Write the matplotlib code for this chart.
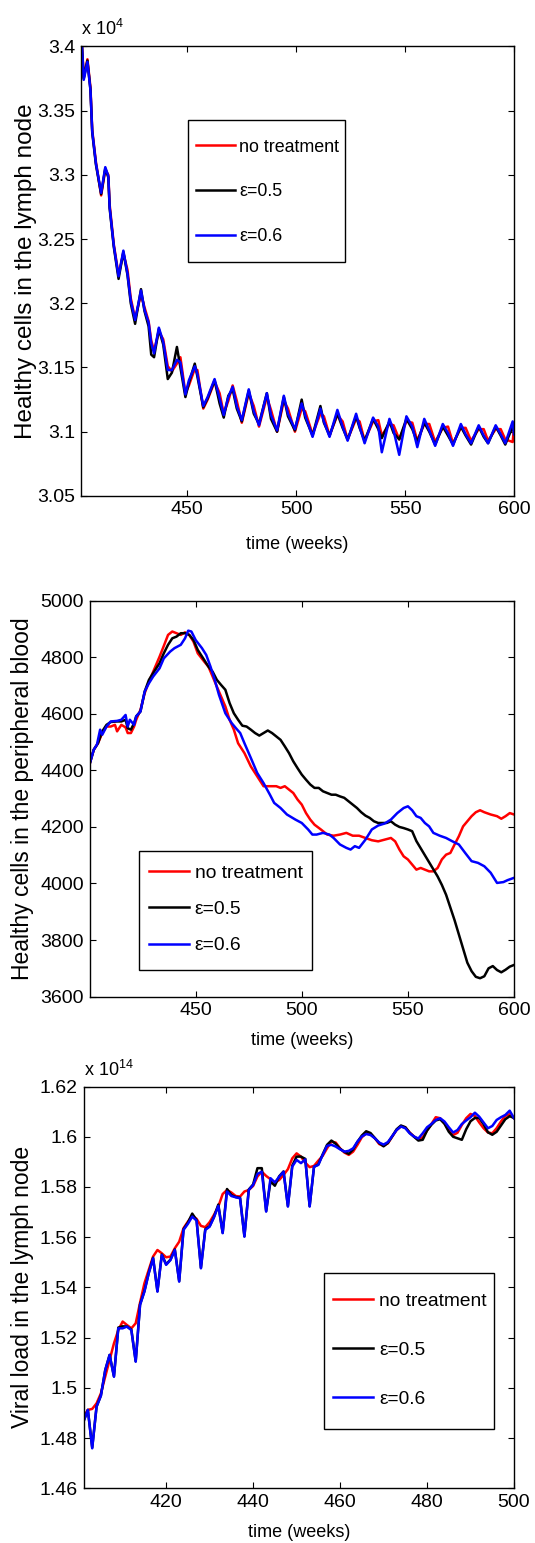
import matplotlib
matplotlib.use('Agg')
import matplotlib.pyplot as plt
from matplotlib.patches import Rectangle
from matplotlib.ticker import FuncFormatter

plt.rcParams['font.family'] = ['Liberation Sans', 'DejaVu Sans']
plt.rcParams['mathtext.default'] = 'regular'

FIG_W, FIG_H = 535, 1543  # tamanho em pixels

labels = ['no treatment', 'ε=0.5', 'ε=0.6']
colors = ['#ff0000', '#000000', '#0000ff']

# ---- Painel 1: células saudáveis no linfonodo (x 10^4) ----
t1 = [401.6, 402.4, 404.1, 405.5, 406.3, 408.0, 410.4, 412.3, 413.7, 414.3,
      416.2, 418.4, 420.6, 422.5, 424.0, 426.0, 428.7, 430.3, 432.2, 433.4,
      434.7, 436.9, 438.9, 441.0, 442.9, 445.2, 446.8, 449.1, 450.7, 453.4,
      454.6, 457.3, 459.3, 462.5, 464.8, 466.7, 468.8, 470.8, 472.7, 475.0,
      478.2, 480.5, 482.9, 486.5, 488.4, 491.2, 494.3, 496.2, 499.4, 502.5,
      504.1, 507.5, 511.1, 512.7, 515.3, 518.9, 521.3, 523.6, 527.5, 529.1,
      531.4, 535.3, 537.7, 539.3, 542.8, 544.7, 547.3, 550.6, 553.3, 555.6,
      558.8, 561.1, 563.8, 567.3, 569.7, 572.0, 575.6, 577.8, 580.3, 583.8,
      586.1, 588.1, 591.6, 593.9, 596.0, 599.4, 600.0]
lymph_none = [3.400, 3.376, 3.390, 3.368, 3.335, 3.310, 3.284, 3.304, 3.300, 3.277,
              3.246, 3.222, 3.239, 3.226, 3.204, 3.188, 3.207, 3.197, 3.186, 3.171,
              3.163, 3.178, 3.172, 3.151, 3.147, 3.153, 3.158, 3.130, 3.136, 3.149,
              3.148, 3.118, 3.125, 3.139, 3.130, 3.114, 3.124, 3.136, 3.124, 3.107,
              3.130, 3.120, 3.104, 3.127, 3.117, 3.100, 3.124, 3.118, 3.100, 3.118,
              3.116, 3.098, 3.114, 3.112, 3.097, 3.113, 3.108, 3.094, 3.110, 3.108,
              3.093, 3.108, 3.109, 3.097, 3.106, 3.105, 3.094, 3.108, 3.107, 3.093,
              3.106, 3.106, 3.092, 3.103, 3.104, 3.091, 3.103, 3.103, 3.093, 3.102,
              3.102, 3.093, 3.102, 3.102, 3.094, 3.092, 3.103]
lymph_e05 = [3.400, 3.375, 3.389, 3.366, 3.333, 3.308, 3.285, 3.305, 3.298, 3.274,
             3.244, 3.219, 3.240, 3.222, 3.200, 3.184, 3.211, 3.194, 3.182, 3.160,
             3.158, 3.180, 3.168, 3.141, 3.146, 3.166, 3.150, 3.127, 3.138, 3.153,
             3.143, 3.119, 3.126, 3.140, 3.122, 3.111, 3.128, 3.133, 3.118, 3.108,
             3.132, 3.114, 3.106, 3.130, 3.110, 3.100, 3.127, 3.112, 3.101, 3.125,
             3.111, 3.097, 3.120, 3.107, 3.097, 3.114, 3.103, 3.094, 3.112, 3.103,
             3.093, 3.110, 3.102, 3.095, 3.108, 3.099, 3.094, 3.110, 3.102, 3.092,
             3.107, 3.100, 3.090, 3.104, 3.097, 3.090, 3.104, 3.097, 3.090, 3.104,
             3.096, 3.091, 3.104, 3.097, 3.090, 3.104, 3.100]
lymph_e06 = [3.400, 3.374, 3.388, 3.366, 3.334, 3.309, 3.286, 3.306, 3.299, 3.275,
             3.245, 3.221, 3.241, 3.223, 3.202, 3.187, 3.210, 3.195, 3.185, 3.169,
             3.161, 3.181, 3.170, 3.148, 3.148, 3.156, 3.154, 3.129, 3.140, 3.151,
             3.145, 3.120, 3.127, 3.141, 3.126, 3.113, 3.127, 3.135, 3.120, 3.109,
             3.133, 3.116, 3.105, 3.130, 3.113, 3.101, 3.128, 3.114, 3.102, 3.122,
             3.113, 3.096, 3.118, 3.108, 3.096, 3.117, 3.104, 3.093, 3.114, 3.104,
             3.091, 3.111, 3.104, 3.084, 3.110, 3.101, 3.082, 3.112, 3.104, 3.088,
             3.110, 3.101, 3.089, 3.106, 3.099, 3.089, 3.106, 3.098, 3.091, 3.105,
             3.097, 3.091, 3.105, 3.098, 3.091, 3.108, 3.098]

# ---- Painel 2: células saudáveis no sangue periférico ----
t2_none = [400.2, 402, 404, 406, 408, 410, 412, 413, 415, 417,
           418, 419.5, 421, 422, 424, 426, 428, 430, 433, 435,
           437, 439, 441, 443, 445, 447, 449, 451, 454, 456,
           458, 460, 462, 464, 466, 468, 470, 473, 476, 479,
           482, 485, 488, 490, 492, 494, 496, 498, 500, 502,
           504, 506, 509, 512, 515, 518, 521, 524, 527, 530,
           533, 536, 539, 542, 544, 546, 548, 550, 552, 554,
           556, 558, 560, 562, 564, 566, 568, 570, 572, 574,
           576, 578, 580, 582, 584, 586, 589, 592, 594, 596,
           598, 600]
blood_none = [4426, 4473, 4496, 4532, 4555, 4555, 4561, 4538, 4561, 4552,
              4532, 4532, 4555, 4579, 4614, 4673, 4714, 4749, 4802, 4840,
              4879, 4891, 4885, 4879, 4888, 4879, 4855, 4814, 4785, 4767,
              4732, 4696, 4661, 4626, 4579, 4544, 4496, 4461, 4414, 4379,
              4344, 4344, 4344, 4338, 4344, 4332, 4320, 4297, 4279, 4249,
              4226, 4208, 4191, 4173, 4169, 4173, 4179, 4169, 4169, 4161,
              4153, 4149, 4155, 4161, 4149, 4120, 4096, 4085, 4067, 4049,
              4055, 4049, 4043, 4043, 4055, 4085, 4102, 4108, 4138, 4167,
              4202, 4220, 4238, 4252, 4259, 4252, 4244, 4238, 4229, 4238,
              4249, 4244]
t2_e05 = [400.2, 402, 404, 406, 408, 410, 413, 415, 417, 418,
          419.5, 421, 422, 424, 426, 428, 430, 433, 435, 437,
          439, 441, 443, 445, 447, 449, 451, 454, 456, 458,
          460, 462, 464, 466, 468, 470, 472, 474, 476, 478,
          480, 482, 484, 486, 488, 490, 492, 494, 496, 498,
          500, 502, 504, 506, 508, 510, 512, 514, 516, 518,
          520, 522, 524, 526, 528, 530, 532, 534, 536, 538,
          540, 542, 544, 546, 548, 550, 552, 554, 556, 558,
          560, 562, 564, 566, 568, 570, 572, 574, 576, 578,
          580, 582, 584, 586, 588, 590, 592, 594, 596, 598,
          600]
blood_e05 = [4426, 4473, 4496, 4538, 4561, 4571, 4573, 4573, 4579, 4549,
             4544, 4567, 4591, 4608, 4679, 4720, 4744, 4779, 4814, 4844,
             4867, 4873, 4885, 4885, 4879, 4861, 4826, 4791, 4767, 4749,
             4720, 4702, 4685, 4638, 4602, 4579, 4558, 4555, 4544, 4532,
             4523, 4532, 4541, 4532, 4520, 4508, 4485, 4461, 4432, 4408,
             4385, 4367, 4350, 4338, 4338, 4326, 4320, 4314, 4314, 4308,
             4303, 4291, 4279, 4267, 4252, 4240, 4232, 4220, 4214, 4214,
             4214, 4220, 4208, 4200, 4196, 4191, 4185, 4150, 4125, 4100,
             4075, 4050, 4025, 3995, 3960, 3915, 3870, 3820, 3770, 3720,
             3690, 3670, 3665, 3672, 3700, 3708, 3694, 3686, 3695, 3706,
             3712]
t2_e06 = [400.2, 402, 403.5, 405, 406, 408, 410, 413, 415, 417,
          418, 419, 421, 422, 424, 426, 428, 430, 433, 435,
          438, 440, 443, 445, 446.5, 448, 450, 453, 455, 457,
          459, 461, 464, 467, 469, 471, 473, 476, 479, 482,
          485, 487, 490, 493, 497, 500, 503, 505, 507, 510,
          513, 515, 518, 521, 523, 525, 527, 530, 533, 536,
          539, 542, 545, 548, 550, 552, 554, 556, 558, 560,
          562, 565, 568, 571, 574, 577, 580, 583, 586, 589,
          592, 595, 597, 600]
blood_e06 = [4426, 4473, 4491, 4544, 4526, 4555, 4573, 4575, 4579, 4596,
             4555, 4579, 4561, 4591, 4608, 4679, 4708, 4732, 4761, 4796,
             4820, 4832, 4844, 4867, 4894, 4891, 4861, 4832, 4808, 4767,
             4720, 4667, 4602, 4567, 4549, 4532, 4496, 4444, 4391, 4355,
             4314, 4285, 4267, 4244, 4226, 4214, 4191, 4173, 4173, 4179,
             4173, 4161, 4138, 4126, 4120, 4132, 4126, 4155, 4191, 4205,
             4212, 4226, 4249, 4267, 4273, 4259, 4238, 4232, 4214, 4202,
             4179, 4169, 4161, 4149, 4138, 4108, 4079, 4073, 4061, 4038,
             4002, 4005, 4012, 4020]

# ---- Painel 3: carga viral no linfonodo (x 10^14) ----
t3 = list(range(401, 501))
viral_none = [1.4885, 1.4912, 1.4916, 1.4938, 1.4978, 1.5045, 1.5111, 1.5177, 1.5230, 1.5264,
              1.5250, 1.5237, 1.5257, 1.5339, 1.5416, 1.5470, 1.5523, 1.5549, 1.5536, 1.5520,
              1.5523, 1.5556, 1.5582, 1.5636, 1.5662, 1.5685, 1.5673, 1.5645, 1.5640, 1.5660,
              1.5689, 1.5722, 1.5772, 1.5788, 1.5778, 1.5764, 1.5762, 1.5782, 1.5788, 1.5804,
              1.5842, 1.5861, 1.5844, 1.5831, 1.5818, 1.5828, 1.5848, 1.5871, 1.5914, 1.5934,
              1.5921, 1.5897, 1.5879, 1.5884, 1.5905, 1.5924, 1.5954, 1.5981, 1.5977, 1.5954,
              1.5937, 1.5928, 1.5941, 1.5968, 1.5998, 1.6014, 1.6011, 1.5994, 1.5971, 1.5964,
              1.5974, 1.6001, 1.6027, 1.6041, 1.6038, 1.6017, 1.6001, 1.5990, 1.5998, 1.6025,
              1.6051, 1.6078, 1.6074, 1.6054, 1.6027, 1.6007, 1.6016, 1.6047, 1.6074, 1.6091,
              1.6083, 1.6057, 1.6034, 1.6017, 1.6014, 1.6034, 1.6061, 1.6083, 1.6090, 1.6074]
viral_e05 = [1.4866, 1.4912, 1.4762, 1.4925, 1.4970, 1.5071, 1.5131, 1.5046, 1.5240, 1.5245,
             1.5244, 1.5232, 1.5106, 1.5332, 1.5385, 1.5458, 1.5518, 1.5385, 1.5531, 1.5492,
             1.5511, 1.5551, 1.5425, 1.5632, 1.5658, 1.5694, 1.5668, 1.5478, 1.5632, 1.5644,
             1.5681, 1.5730, 1.5618, 1.5792, 1.5768, 1.5760, 1.5757, 1.5604, 1.5790, 1.5810,
             1.5875, 1.5875, 1.5704, 1.5822, 1.5805, 1.5843, 1.5862, 1.5724, 1.5885, 1.5921,
             1.5921, 1.5912, 1.5724, 1.5880, 1.5890, 1.5930, 1.5968, 1.5985, 1.5972, 1.5952,
             1.5940, 1.5932, 1.5950, 1.5980, 1.6005, 1.6022, 1.6015, 1.5995, 1.5975, 1.5962,
             1.5976, 1.6002, 1.6030, 1.6045, 1.6038, 1.6016, 1.6000, 1.5985, 1.5988, 1.6025,
             1.6048, 1.6065, 1.6070, 1.6052, 1.6020, 1.6000, 1.5994, 1.5988, 1.6030, 1.6062,
             1.6075, 1.6075, 1.6050, 1.6018, 1.6008, 1.6020, 1.6045, 1.6070, 1.6082, 1.6075]
viral_e06 = [1.4866, 1.4912, 1.4759, 1.4925, 1.4968, 1.5071, 1.5131, 1.5044, 1.5237, 1.5237,
             1.5244, 1.5230, 1.5104, 1.5330, 1.5383, 1.5456, 1.5516, 1.5383, 1.5529, 1.5490,
             1.5509, 1.5549, 1.5423, 1.5629, 1.5653, 1.5682, 1.5666, 1.5476, 1.5629, 1.5642,
             1.5679, 1.5725, 1.5616, 1.5782, 1.5764, 1.5759, 1.5755, 1.5602, 1.5788, 1.5808,
             1.5852, 1.5861, 1.5702, 1.5835, 1.5818, 1.5841, 1.5861, 1.5722, 1.5881, 1.5908,
             1.5895, 1.5910, 1.5722, 1.5881, 1.5888, 1.5928, 1.5964, 1.5968, 1.5961, 1.5950,
             1.5941, 1.5944, 1.5954, 1.5981, 1.6001, 1.6011, 1.6007, 1.5994, 1.5977, 1.5969,
             1.5979, 1.6003, 1.6027, 1.6041, 1.6034, 1.6014, 1.6001, 1.5993, 1.6014, 1.6038,
             1.6051, 1.6067, 1.6074, 1.6061, 1.6038, 1.6017, 1.6027, 1.6051, 1.6065, 1.6078,
             1.6096, 1.6080, 1.6057, 1.6034, 1.6043, 1.6067, 1.6078, 1.6087, 1.6104, 1.6074]


def px_to_axes(ax, x_px, y_px):
    # converte pixels da figura (origem no topo) para coordenadas do eixo
    pos = ax.get_position()
    ax_x = (x_px / FIG_W - pos.x0) / pos.width
    ax_y = ((1 - y_px / FIG_H) - pos.y0) / pos.height
    return ax_x, ax_y


def style_axes(ax, xlim, ylim, xticks, yticks):
    ax.set_xlim(xlim)
    ax.set_ylim(ylim)
    ax.set_xticks(xticks)
    ax.set_yticks(yticks)
    ax.yaxis.set_major_formatter(FuncFormatter(lambda v, p: '%g' % v))
    ax.xaxis.set_major_formatter(FuncFormatter(lambda v, p: '%g' % v))
    ax.tick_params(direction='in', top=True, right=True, length=4,
                   width=0.8, labelsize=14, pad=4)
    for sp in ax.spines.values():
        sp.set_linewidth(1.0)
    ax.set_xlabel('time (weeks)', fontsize=13)
    ax.xaxis.set_label_coords(0.5, -0.09)


def add_legend(ax, frame, handle_x, first_top, fs, spacing, hlen, hpad):
    # caixa da legenda desenhada à parte (estilo MATLAB, cantos retos)
    x0, y0 = px_to_axes(ax, frame[0], frame[3])
    x1, y1 = px_to_axes(ax, frame[2], frame[1])
    ax.add_patch(Rectangle((x0, y0), x1 - x0, y1 - y0, transform=ax.transAxes,
                           facecolor='white', edgecolor='black', linewidth=1.0,
                           zorder=4))
    ax.legend(labels, loc='upper left', bbox_to_anchor=px_to_axes(ax, handle_x, first_top),
              borderaxespad=0, borderpad=0, frameon=False, fontsize=fs,
              labelspacing=spacing, handlelength=hlen, handletextpad=hpad)


fig = plt.figure(figsize=(5.35, 15.43), dpi=100)

# Painel 1
ax1 = fig.add_axes([0.1508, 0.6786, 0.8099, 0.2913])
for y, c in zip([lymph_none, lymph_e05, lymph_e06], colors):
    ax1.plot(t1, y, color=c, linewidth=1.8)
style_axes(ax1, (401, 600), (3.05, 3.40), [450, 500, 550, 600],
           [3.05, 3.10, 3.15, 3.20, 3.25, 3.30, 3.35, 3.40])
ax1.set_ylabel('Healthy cells in the lymph node', fontsize=17.5)
ax1.yaxis.set_label_coords(-0.10, 0.5)
ax1.annotate(r'x 10$^{4}$', xy=(0, 1), xycoords='axes fraction', xytext=(0, 5),
             textcoords='offset points', ha='left', va='bottom', fontsize=13)
add_legend(ax1, (188, 120, 345, 262), 196, 138.5, 12.9, 1.55, 2.15, 0.25)

# Painel 2
ax2 = fig.add_axes([0.1673, 0.3541, 0.7935, 0.2566])
for t, y, c in zip([t2_none, t2_e05, t2_e06], [blood_none, blood_e05, blood_e06], colors):
    ax2.plot(t, y, color=c, linewidth=1.8)
style_axes(ax2, (400, 600), (3600, 5000), [450, 500, 550, 600],
           [3600, 3800, 4000, 4200, 4400, 4600, 4800, 5000])
ax2.set_ylabel('Healthy cells in the peripheral blood', fontsize=16.5)
ax2.yaxis.set_label_coords(-0.13, 0.5)
add_legend(ax2, (139, 851, 312, 970), 148.5, 864, 13.9, 0.98, 2.1, 0.3)

# Painel 3
ax3 = fig.add_axes([0.1561, 0.0355, 0.8047, 0.2603])
for y, c in zip([viral_none, viral_e05, viral_e06], colors):
    ax3.plot(t3, y, color=c, linewidth=1.8)
style_axes(ax3, (401, 500), (1.46, 1.62), [420, 440, 460, 480, 500],
           [1.46, 1.48, 1.50, 1.52, 1.54, 1.56, 1.58, 1.60, 1.62])
ax3.set_ylabel('Viral load in the lymph node', fontsize=16.5)
ax3.yaxis.set_label_coords(-0.115, 0.5)
ax3.annotate(r'x 10$^{14}$', xy=(0, 1), xycoords='axes fraction', xytext=(0, 5),
             textcoords='offset points', ha='left', va='bottom', fontsize=13)
add_legend(ax3, (323.5, 1273, 494, 1429), 333, 1292.5, 13.8, 1.65, 2.1, 0.3)

fig.savefig('out.png', dpi=100)
